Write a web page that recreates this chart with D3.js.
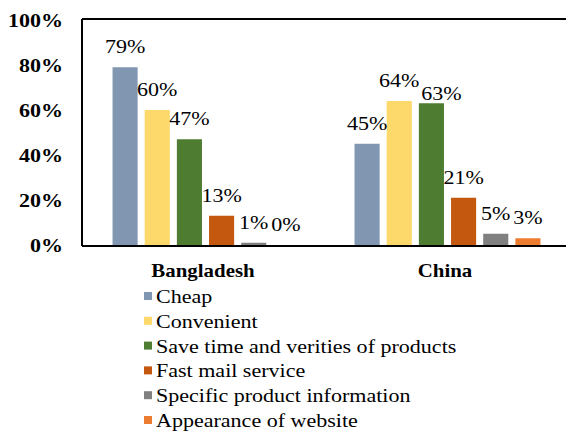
<!DOCTYPE html>
<html>
<head>
<meta charset="utf-8">
<script src="https://cdn.jsdelivr.net/npm/d3@7"></script>
<style>
  html, body { margin: 0; padding: 0; background: #fff; }
  svg { display: block; }
</style>
</head>
<body>
<svg id="chart" width="566" height="432"></svg>
<script>
// Reasons for online shopping, by country
const countries = ["Bangladesh", "China"];
const reasons = [
  "Cheap",
  "Convenient",
  "Save time and verities of products",
  "Fast mail service",
  "Specific product information",
  "Appearance of website"
];
const bangladeshValues = [79, 60, 47, 13, 1, 0];
const chinaValues = [45, 64, 63, 21, 5, 3];
const yTicks = [0, 20, 40, 60, 80, 100];
const colors = ["#8096b1", "#fdd86a", "#4e7d32", "#c4580f", "#808080", "#ec7c30"];

const valuesByCountry = { Bangladesh: bangladeshValues, China: chinaValues };

const svg = d3.select("#chart");
const stretch = 1.13;

const plot = { left: 82, right: 568, top: 20, bottom: 245 };

const y = d3.scaleLinear().domain([0, 100]).range([plot.bottom, plot.top]);
const x0 = d3.scaleBand().domain(countries).range([84, 568]);
const x1 = d3.scaleBand().domain(reasons).range([25, 218])
  .paddingInner(0.22).paddingOuter(0.11);

// Text drawn slightly widened horizontally
function addText(sel, tx, ty, str, opts) {
  return sel.append("text")
    .attr("transform", `translate(${tx},${ty}) scale(${stretch},1)`)
    .style("font-family", '"Liberation Serif"')
    .attr("font-size", opts.size)
    .attr("font-weight", opts.weight || "normal")
    .attr("text-anchor", opts.anchor || "start")
    .attr("fill", "#000")
    .text(str);
}

// Bars
const groups = svg.append("g").selectAll("g")
  .data(countries).join("g")
  .attr("transform", d => `translate(${x0(d)},0)`);

groups.selectAll("rect")
  .data(c => reasons.map((r, i) => ({ r, i, v: valuesByCountry[c][i] })))
  .join("rect")
  .attr("x", d => x1(d.r))
  .attr("width", x1.bandwidth())
  .attr("y", d => y(d.v))
  .attr("height", d => y(0) - y(d.v))
  .attr("fill", d => colors[d.i]);

// Value labels; a tall bar's label that would collide with its left
// neighbour is pushed right and down so both stay readable
groups.each(function(c) {
  const g = d3.select(this);
  const vals = valuesByCountry[c];
  vals.forEach((v, i) => {
    let dx = 0, dy = 0;
    if (i > 0 && v > 10 && Math.abs(vals[i - 1] - v) < 3) { dx = 10; dy = 11; }
    addText(g, x1(reasons[i]) + x1.bandwidth() / 2 + dx, y(v) - 14 + dy, v + "%",
      { size: 19.5, anchor: "middle" });
  });
});

// Frame: left, top and baseline
const frame = svg.append("g").attr("stroke", "#000").attr("stroke-width", 2);
frame.append("line").attr("x1", plot.left).attr("x2", plot.left)
  .attr("y1", plot.top - 1).attr("y2", plot.bottom + 1);
frame.append("line").attr("x1", plot.left).attr("x2", 566)
  .attr("y1", plot.top - 1).attr("y2", plot.top - 1);
frame.append("line").attr("x1", plot.left).attr("x2", 566)
  .attr("y1", plot.bottom + 1).attr("y2", plot.bottom + 1);

// Y axis tick labels
yTicks.forEach(t => {
  addText(svg, 63, y(t) + 7, t + "%", { size: 19.5, weight: "bold", anchor: "end" });
});

// Category labels
countries.forEach(c => {
  addText(svg, x0(c) + x0.bandwidth() / 2 - 2, 277, c,
    { size: 18.5, weight: "bold", anchor: "middle" });
});

// Legend
const legend = svg.append("g");
reasons.forEach((r, i) => {
  const ly = 303 + i * 24.8;
  legend.append("rect")
    .attr("x", 144).attr("y", ly - 11)
    .attr("width", 8).attr("height", 8)
    .attr("fill", colors[i]);
  addText(legend, 156, ly, r, { size: 19.5 });
});
</script>
</body>
</html>
